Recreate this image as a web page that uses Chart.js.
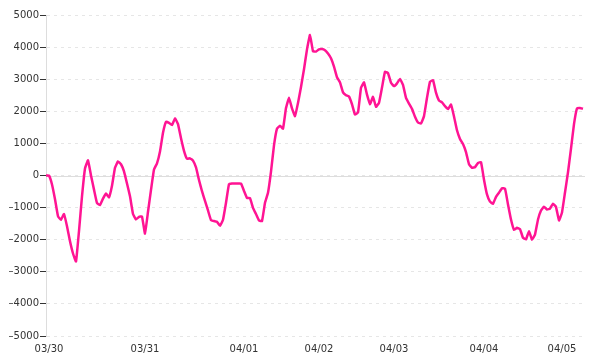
<!DOCTYPE html>
<html>
<head>
<meta charset="utf-8">
<script src="https://cdn.jsdelivr.net/npm/chart.js@4/dist/chart.umd.min.js"></script>
<style>
    body { margin: 0; background: #fff; }
</style>
</head>
<body>
<canvas id="myChart" width="600" height="360"></canvas>
<script>
// values, one point roughly every 3px
const values = [
    0, 0, -280, -740, -1270, -1380, -1200, -1580, -2050, -2430,
    -2680, -1730, -650, 220, 470, 0, -440, -860, -920, -720,
    -560, -680, -320, 240, 440, 350, 130, -250, -650, -1200,
    -1370, -1290, -1280, -1810, -1130, -450, 185, 380, 750, 1330,
    1670, 1640, 1570, 1780, 1600, 1160, 770, 520, 535, 465,
    250, -140, -490, -790, -1090, -1390, -1420, -1440, -1570, -1380,
    -850, -270, -250, -250, -250, -250, -480, -700, -705, -1010,
    -1200, -1400, -1420, -850, -540, 120, 940, 1460, 1550, 1460,
    2100, 2420, 2090, 1850, 2260, 2760, 3310, 3930, 4380, 3870,
    3860, 3930, 3940, 3900, 3800, 3650, 3390, 3060, 2900, 2590,
    2500, 2460, 2220, 1900, 1960, 2730, 2900, 2520, 2220, 2450,
    2140, 2265, 2740, 3230, 3190, 2890, 2785, 2870, 3010, 2820,
    2420, 2240, 2075, 1830, 1650, 1620, 1850, 2420, 2920, 2970,
    2580, 2335, 2280, 2160, 2070, 2210, 1840, 1410, 1140, 980,
    730, 350, 240, 260, 390, 415, -130, -590, -815, -880,
    -665, -535, -400, -410, -900, -1370, -1690, -1630, -1670, -1940,
    -1990, -1735, -2000, -1840, -1370, -1090, -970, -1060, -1030, -880,
    -980, -1400, -1150, -530, 100, 840, 1600, 2090, 2105, 2080
];

// day labels and the point index each one sits under
const dayNames = ["03/30", "03/31", "04/01", "04/02", "04/03", "04/04", "04/05"];
const dayIndex = [1, 33, 66, 91, 116, 146, 172];

const yMin = -5000;
const yMax = 5000;
const yStep = 1000;

const labels = values.map(() => "");
dayIndex.forEach((idx, i) => { labels[idx] = dayNames[i]; });

// solid line at zero, drawn under the data
const zeroLine = {
    id: "zeroLine",
    beforeDatasetsDraw(chart) {
        const { ctx, chartArea, scales } = chart;
        const y = Math.round(scales.y.getPixelForValue(0)) + 0.5;
        ctx.save();
        ctx.strokeStyle = "#dddddd";
        ctx.lineWidth = 1;
        ctx.beginPath();
        ctx.moveTo(chartArea.left, y);
        ctx.lineTo(chartArea.right + 2, y);
        ctx.stroke();
        ctx.restore();
    },
};

const font = { family: "DejaVu Sans", size: 10 };

new Chart(document.getElementById("myChart"), {
    type: "line",
    data: {
        labels: labels,
        datasets: [
            {
                data: values,
                borderColor: "#ff1493",
                borderWidth: 2.5,
                pointRadius: 0,
                fill: false,
                tension: 0.1,
            },
        ],
    },
    options: {
        responsive: false,
        animation: false,
        devicePixelRatio: 1,
        layout: { padding: { top: 15, right: 17, bottom: 0, left: 0 } },
        plugins: {
            legend: { display: false },
            tooltip: { enabled: false },
        },
        scales: {
            x: {
                type: "category",
                offset: false,
                grid: { display: false, drawTicks: false },
                border: { display: false },
                ticks: {
                    autoSkip: false,
                    maxRotation: 0,
                    minRotation: 0,
                    padding: 7,
                    color: "#333",
                    font: font,
                },
                afterFit(scale) {
                    scale.height = 24;
                },
            },
            y: {
                min: yMin,
                max: yMax,
                grid: {
                    color: "#e6e6e6",
                    tickColor: "#333",
                    tickLength: 6,
                    tickWidth: 1,
                },
                border: { color: "#dddddd", dash: [3, 4] },
                ticks: {
                    stepSize: yStep,
                    padding: 1,
                    color: "#333",
                    font: font,
                    callback: (v) => (v < 0 ? "\u2013" + Math.abs(v) : String(v)),
                },
                afterFit(scale) {
                    scale.width = 46;
                },
            },
        },
    },
    plugins: [zeroLine],
});
</script>
</body>
</html>
